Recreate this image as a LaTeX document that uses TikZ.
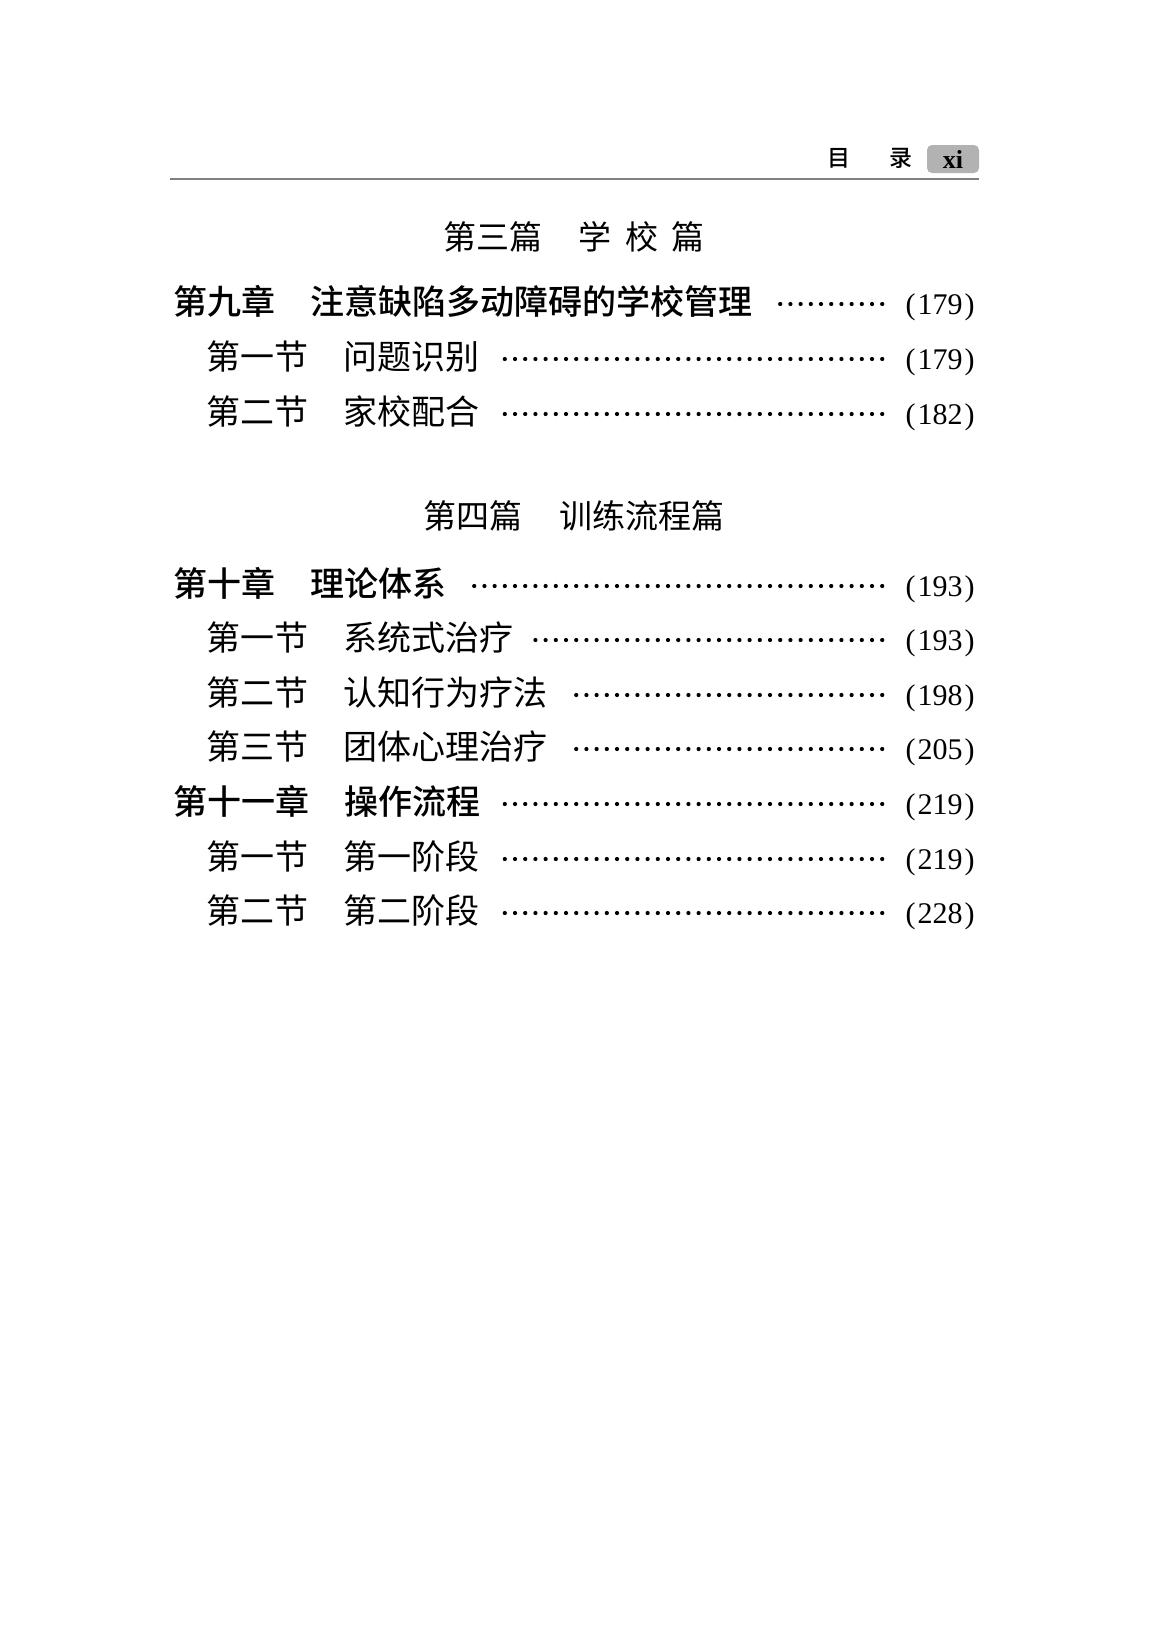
\documentclass[tikz,border=0pt]{standalone}
\usepackage{fontspec}
\setmainfont{Liberation Serif}
\newfontfamily\cjk[BoldFont={Noto Sans CJK SC Medium}]{Noto Sans CJK SC}
\usepackage{tikz}
\usetikzlibrary{positioning}
\tikzstyle{chap} = [inner sep=0pt, anchor=base west, font={\cjk\bfseries\fontsize{17pt}{20pt}\selectfont}]
\tikzstyle{sect} = [inner sep=0pt, anchor=base west, font={\cjk\fontsize{17pt}{20pt}\selectfont}]
\tikzstyle{part} = [inner sep=0pt, font={\cjk\fontsize{16.5pt}{20pt}\selectfont}]
\tikzstyle{pnum} = [inner sep=0pt, anchor=base east, font={\fontsize{15pt}{18pt}\selectfont}]
\tikzstyle{hdr} = [inner sep=0pt, font={\cjk\bfseries\fontsize{11.5pt}{13pt}\selectfont}]
\tikzstyle{pagebox} = [fill=black!30, rounded corners=2.5pt, minimum width=26pt, minimum height=14pt, inner sep=0pt, font={\bfseries\fontsize{13pt}{13pt}\selectfont}]
\tikzstyle{rule} = [draw=black!50, line width=1pt]
\tikzstyle{leader} = [line width=2.1pt, line cap=round, dash pattern=on 0pt off 5.1pt, shorten <=11.5pt, shorten >=10pt]

\begin{document}
\begin{tikzpicture}[x=0.5pt,y=-0.5pt]
			\useasboundingbox (0,0) rectangle (1150,1646);
			\node[hdr] (mu) at (839,158) {目};
			\node[hdr, right=19pt of mu] (lu) {录};
			\node[pagebox] (xi) at (953,159) {xi};
			\coordinate (hl) at (170,179);
			\coordinate (hr) at (979,179);
			\draw[rule] (hl) -- (hr);
			\node[part] (p3) at (574,237) {第三篇\hspace{1.1em}学\hspace{0.4em}校\hspace{0.4em}篇};
			\node[chap] (c9) at (173,314) {第九章};
			\node[chap, base right=17pt of c9] (c9t) {注意缺陷多动障碍的学校管理};
			\node[pnum] (c9p) at (975,314) {(\kern1pt179\kern1pt)};
			\node[sect] (s91) at (206,369) {第一节};
			\node[sect, base right=17pt of s91] (s91t) {问题识别};
			\node[pnum] (s91p) at (975,369) {(\kern1pt179\kern1pt)};
			\node[sect] (s92) at (206,424) {第二节};
			\node[sect, base right=17pt of s92] (s92t) {家校配合};
			\node[pnum] (s92p) at (975,424) {(\kern1pt182\kern1pt)};
			\node[part] (p4) at (574,516) {第四篇\hspace{1.1em}训练流程篇};
			\node[chap] (c10) at (173,596) {第十章};
			\node[chap, base right=17pt of c10] (c10t) {理论体系};
			\node[pnum] (c10p) at (975,596) {(\kern1pt193\kern1pt)};
			\node[sect] (s101) at (206,650) {第一节};
			\node[sect, base right=17pt of s101] (s101t) {系统式治疗};
			\node[pnum] (s101p) at (975,650) {(\kern1pt193\kern1pt)};
			\node[sect] (s102) at (206,705) {第二节};
			\node[sect, base right=17pt of s102] (s102t) {认知行为疗法};
			\node[pnum] (s102p) at (975,705) {(\kern1pt198\kern1pt)};
			\node[sect] (s103) at (206,759) {第三节};
			\node[sect, base right=17pt of s103] (s103t) {团体心理治疗};
			\node[pnum] (s103p) at (975,759) {(\kern1pt205\kern1pt)};
			\node[chap] (c11) at (173,814) {第十一章};
			\node[chap, base right=17pt of c11] (c11t) {操作流程};
			\node[pnum] (c11p) at (975,814) {(\kern1pt219\kern1pt)};
			\node[sect] (s111) at (206,869) {第一节};
			\node[sect, base right=17pt of s111] (s111t) {第一阶段};
			\node[pnum] (s111p) at (975,869) {(\kern1pt219\kern1pt)};
			\node[sect] (s112) at (206,923) {第二节};
			\node[sect, base right=17pt of s112] (s112t) {第二阶段};
			\node[pnum] (s112p) at (975,923) {(\kern1pt228\kern1pt)};
			\draw[leader] ([yshift=5pt]c9p.base west) -- ([yshift=5pt]c9t.base east);
			\draw[leader] ([yshift=5pt]s91p.base west) -- ([yshift=5pt]s91t.base east);
			\draw[leader] ([yshift=5pt]s92p.base west) -- ([yshift=5pt]s92t.base east);
			\draw[leader] ([yshift=5pt]c10p.base west) -- ([yshift=5pt]c10t.base east);
			\draw[leader] ([yshift=5pt]s101p.base west) -- ([yshift=5pt]s101t.base east);
			\draw[leader] ([yshift=5pt]s102p.base west) -- ([yshift=5pt]s102t.base east);
			\draw[leader] ([yshift=5pt]s103p.base west) -- ([yshift=5pt]s103t.base east);
			\draw[leader] ([yshift=5pt]c11p.base west) -- ([yshift=5pt]c11t.base east);
			\draw[leader] ([yshift=5pt]s111p.base west) -- ([yshift=5pt]s111t.base east);
			\draw[leader] ([yshift=5pt]s112p.base west) -- ([yshift=5pt]s112t.base east);
		\end{tikzpicture}
\end{document}
